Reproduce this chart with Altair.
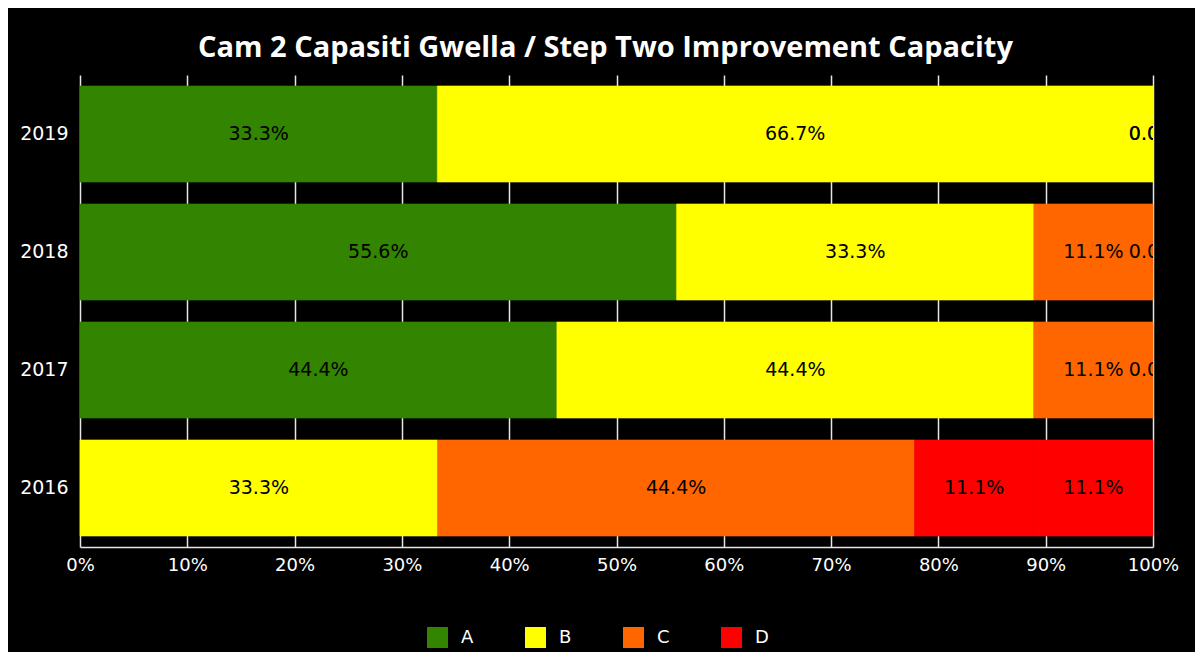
import altair as alt
import pandas as pd

years = ["2019", "2018", "2017", "2016"]
grades = ["A", "B", "C", "D", "E"]
# percentage per year and grade (E = second red segment, not in legend)
val_A = [33.3, 55.6, 44.4, None]
val_B = [66.7, 33.3, 44.4, 33.3]
val_C = [0.0, 11.1, 11.1, 44.4]
val_D = [0.0, 0.0, 0.0, 11.1]
val_E = [None, None, None, 11.1]
legend_grades = ["A", "B", "C", "D"]
colors = ["#338400", "#FFFF00", "#FF6600", "#FF0000", "#FF0000"]
x_ticks = [0, 0.1, 0.2, 0.3, 0.4, 0.5, 0.6, 0.7, 0.8, 0.9, 1.0]
title_text = "Cam 2 Capasiti Gwella / Step Two Improvement Capacity"

rows = []
series = {"A": val_A, "B": val_B, "C": val_C, "D": val_D, "E": val_E}
for gi, g in enumerate(grades):
    for yi, y in enumerate(years):
        v = series[g][yi]
        if v is None:
            continue
        rows.append({"year": y, "grade": g, "order": gi, "value": v,
                     "label": f"{v:.1f}%"})
df = pd.DataFrame(rows)

base = alt.Chart(df).transform_stack(
    stack="value", as_=["x0", "x1"], groupby=["year"], offset="normalize",
    sort=[alt.SortField("order", order="ascending")]
).transform_calculate(mid="(datum.x0 + datum.x1) / 2")

yenc = alt.Y("year:N", sort=years, title=None,
             scale=alt.Scale(paddingInner=0.186, paddingOuter=0.093),
             axis=alt.Axis(labelColor="white", labelFont="DejaVu Sans",
                           labelFontSize=19, labelPadding=12, ticks=False,
                           domain=False, grid=False))

xscale = alt.Scale(domain=[0, 1], nice=False)
cscale = alt.Scale(domain=grades, range=colors)

bars = base.transform_filter("datum.value > 0").mark_bar(strokeWidth=0.6).encode(
    x=alt.X("x0:Q", scale=xscale, title=None,
            axis=alt.Axis(values=x_ticks, format=".0%",
                          labelColor="white", labelFont="DejaVu Sans",
                          labelFontSize=18, labelPadding=9, ticks=False,
                          labelFlush=False,
                          domain=True, domainColor="#e6e6e6", domainWidth=1.5,
                          grid=True, gridColor="#e6e6e6", gridWidth=1.5)),
    x2="x1:Q",
    y=yenc,
    stroke=alt.Stroke("grade:N", scale=cscale, legend=None),
    color=alt.Color("grade:N",
                    scale=cscale,
                    legend=alt.Legend(values=legend_grades, title=None,
                                      orient="none", direction="horizontal",
                                      legendX=347, legendY=552,
                                      symbolType="square", symbolSize=440,
                                      symbolStrokeWidth=0, symbolOpacity=1,
                                      labelColor="white", labelFont="DejaVu Sans",
                                      labelFontSize=18, labelOffset=13,
                                      columnPadding=51, padding=0)),
)

labels = base.mark_text(clip=True, font="DejaVu Sans", fontSize=19,
                        color="black", align="center", baseline="middle").encode(
    x=alt.X("mid:Q", scale=xscale),
    y=alt.Y("year:N", sort=years),
    text="label:N",
)

chart = alt.layer(bars, labels).properties(
    width=1073, height=472,
    padding={"left": 72, "top": 67, "right": 42, "bottom": 105},
    autosize=alt.AutoSizeParams(type="none"),
    background="black",
    title=alt.TitleParams(title_text, color="white", font="Open Sans",
                          fontSize=29, fontWeight="bold", anchor="middle",
                          frame="group", dx=-11, offset=12),
).configure_view(stroke=None)

chart.save("out.html", embed_options={"renderer": "svg", "actions": False})
